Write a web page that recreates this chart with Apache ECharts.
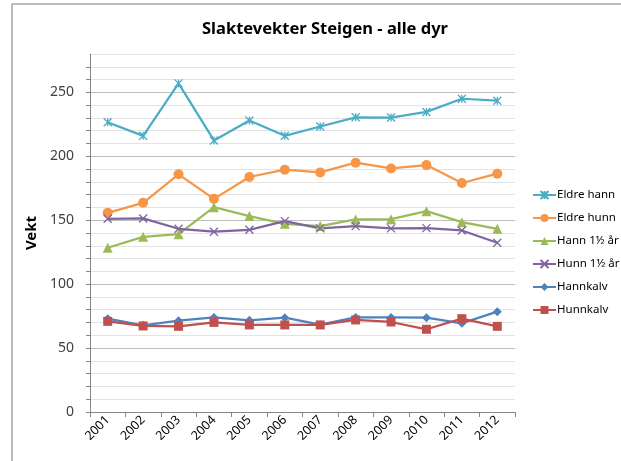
<!DOCTYPE html>
<html>
<head>
<meta charset="utf-8">
<script src="https://cdn.jsdelivr.net/npm/echarts@6/dist/echarts.min.js"></script>
<style>
  html, body { margin: 0; padding: 0; background: #fff; }
  #chart { width: 621px; height: 461px; }
</style>
</head>
<body>
<div id="chart"></div>
<script>
const years = ['2001', '2002', '2003', '2004', '2005', '2006', '2007', '2008', '2009', '2010', '2011', '2012'];

const eldreHann = [226.6, 216, 257, 212.4, 228, 216, 223.3, 230.5, 230.3, 234.7, 245, 243.5];
const eldreHunn = [155.8, 163.6, 185.9, 166.7, 183.8, 189.5, 187.4, 195, 190.5, 193.1, 179.1, 186.4];
const hann15 = [128.5, 137, 139.1, 160.2, 153.2, 147.2, 145.4, 150.6, 150.8, 157.1, 148.5, 143.3];
const hunn15 = [151.1, 151.4, 143.3, 141, 142.5, 149.3, 143.6, 145.4, 143.6, 143.8, 142, 132.4];
const hannkalv = [73, 67.8, 71.4, 74, 71.7, 73.8, 68.3, 74, 74, 73.8, 69.4, 78.5];
const hunnkalv = [70.9, 67.3, 67, 70.1, 68.1, 68.1, 68.1, 72, 70.4, 64.7, 73, 67];

const FONT = '"Noto Sans", "Open Sans", sans-serif';
const STAR = 'path://M0,0L10,10M10,0L0,10M5,0L5,10';
const CROSS = 'path://M0,0L10,10M10,0L0,10';

function lineSeries(name, data, color, symbol, size, stroked) {
  return {
    name: name,
    type: 'line',
    data: data,
    symbol: symbol,
    symbolSize: size,
    showSymbol: true,
    lineStyle: { color: color, width: 2.25 },
    itemStyle: stroked
      ? { color: 'rgba(0,0,0,0)', borderColor: color, borderWidth: 1.3 }
      : { color: color, borderColor: color, borderWidth: 0 },
    emphasis: { disabled: true },
    z: 3,
  };
}

const chart = echarts.init(document.getElementById('chart'));
const opts = {
  animation: false,
  backgroundColor: '#fff',
  graphic: [
    {
      type: 'rect',
      shape: { x: 12, y: 4, width: 700, height: 600 },
      style: { fill: 'none', stroke: '#A6A6A6', lineWidth: 1.5 },
      silent: true,
    },
  ],
  title: {
    text: 'Slaktevekter Steigen - alle dyr',
    left: 320,
    top: 16,
    textAlign: 'center',
    textStyle: { fontFamily: FONT, fontSize: 16.5, fontWeight: 'bold', color: '#000' },
  },
  legend: {
    orient: 'vertical',
    left: 532,
    top: 189,
    padding: 0,
    itemWidth: 23,
    itemHeight: 10,
    itemGap: 11,
    textStyle: { fontFamily: FONT, fontSize: 11.5, color: '#000', padding: [0, 0, 0, -4] },
    data: ['Eldre hann', 'Eldre hunn', 'Hann 1½ år', 'Hunn 1½ år', 'Hannkalv', 'Hunnkalv'],
  },
  grid: { left: 90, right: 106, top: 54, bottom: 49, containLabel: false },
  xAxis: {
    type: 'category',
    data: years,
    boundaryGap: true,
    axisLine: { lineStyle: { color: '#868686', width: 1 } },
    axisTick: { show: true, length: 5, alignWithLabel: false, lineStyle: { color: '#868686' } },
    axisLabel: {
      rotate: 45,
      interval: 0,
      margin: 6,
      fontFamily: FONT,
      fontSize: 12.5,
      color: '#000',
    },
    splitLine: { show: false },
  },
  yAxis: {
    type: 'value',
    min: 0,
    max: 280,
    interval: 10,
    name: 'Vekt',
    nameLocation: 'middle',
    nameGap: 47,
    nameTextStyle: { fontFamily: FONT, fontSize: 15, fontWeight: 'bold', color: '#000' },
    axisLine: { show: true, lineStyle: { color: '#868686', width: 1 } },
    axisTick: { show: true, length: 4, lineStyle: { color: '#868686' } },
    axisLabel: {
      margin: 16,
      fontFamily: FONT,
      fontSize: 14,
      color: '#404040',
      showMaxLabel: false,
      formatter: (v) => (v % 50 === 0 ? String(v) : ''),
    },
    splitLine: {
      show: true,
      lineStyle: { color: ['#BFBFBF', '#E3E3E3', '#E3E3E3', '#E3E3E3', '#E3E3E3'], width: 1 },
    },
  },
  series: [
    lineSeries('Eldre hann', eldreHann, '#4BACC6', STAR, 8, true),
    lineSeries('Eldre hunn', eldreHunn, '#F79646', 'circle', 10, false),
    lineSeries('Hann 1½ år', hann15, '#9BBB59', 'triangle', 10, false),
    lineSeries('Hunn 1½ år', hunn15, '#8064A2', CROSS, 8, true),
    lineSeries('Hannkalv', hannkalv, '#4F81BD', 'diamond', 9, false),
    lineSeries('Hunnkalv', hunnkalv, '#C0504D', 'rect', 9, false),
  ],
};
chart.setOption(opts);
</script>
</body>
</html>
